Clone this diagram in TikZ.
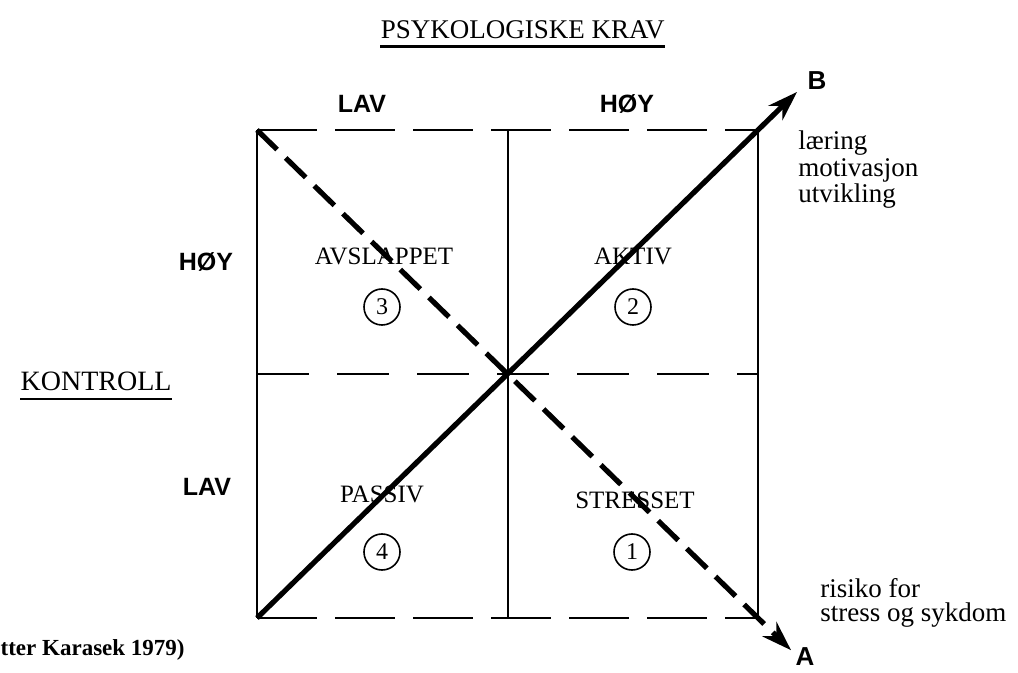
\documentclass[tikz,border=0pt]{standalone}
\usepackage{fontspec}
\setmainfont{Liberation Serif}
\newfontfamily\capsfont{Liberation Sans}
\usetikzlibrary{calc, arrows.meta}

\begin{document}
\begin{tikzpicture}[x=0.5pt, y=-0.5pt,
    axislabel/.style={font=\capsfont\bfseries\fontsize{12.5}{12.5}\selectfont, inner sep=0pt},
    fieldlabel/.style={font=\fontsize{12.5}{12.5}\selectfont, inner sep=0pt},
    sidetext/.style={font=\fontsize{13.5}{13.5}\selectfont, inner sep=0pt},
    numcircle/.style={circle, draw, line width=0.8pt, minimum size=18pt, inner sep=0pt, font=\fontsize{12}{12}\selectfont},
    thinline/.style={line width=1pt},
    gapline/.style={line width=1pt, dash pattern=on 30pt off 9pt},
    midgap/.style={line width=1pt, dash pattern=on 26pt off 14pt},
    diag/.style={line width=2.6pt, -{Stealth[length=15pt, width=10pt]}}]
                \useasboundingbox (0,0) rectangle (1018,673);
                \fill[white] (0,0) rectangle (1018,673);
                \coordinate (tl) at (257,130);
                \coordinate (tr) at (758,130);
                \coordinate (bl) at (257,618);
                \coordinate (br) at (758,618);
                \coordinate (tm) at ($(tl)!0.5!(tr)$);
                \coordinate (bm) at ($(bl)!0.5!(br)$);
                \coordinate (lm) at ($(tl)!0.5!(bl)$);
                \coordinate (rm) at ($(tr)!0.5!(br)$);
                \coordinate (btip) at ($(bl)!1.078!(tr)$);
                \coordinate (atip) at ($(tl)!1.066!(br)$);
                \draw[thinline] (tl) -- (bl) (tr) -- (br) (tm) -- (bm);
                \draw[gapline] (tl) -- (tr) (bl) -- (br);
                \draw[midgap] (lm) -- (rm);
                \draw[diag] (bl) -- (btip);
                \draw[diag, dash pattern=on 14pt off 6pt] (tl) -- (atip);
                \node[sidetext, anchor=east] (title) at (665,30) {PSYKOLOGISKE KRAV};
                \draw[line width=1.2pt] ($(title.south west)+(0,7)$) -- ($(title.south east)+(0,7)$);
                \node[sidetext, font=\fontsize{14}{14}\selectfont, anchor=east] (ctrl) at (172,381) {KONTROLL};
                \draw[line width=1.2pt] ($(ctrl.south west)+(0,8)$) -- ($(ctrl.south east)+(0,8)$);
                \node[axislabel] (toplow) at (362,104) {LAV};
                \node[axislabel] (tophigh) at (627,104) {HØY};
                \node[axislabel] (sidehigh) at (206,262) {HØY};
                \node[axislabel] (sidelow) at (207,487) {LAV};
                \node[fieldlabel] (relaxed) at (384,256) {AVSLAPPET};
                \node[fieldlabel] (active) at (633,256) {AKTIV};
                \node[fieldlabel] (passive) at (382,494) {PASSIV};
                \node[fieldlabel] (stressed) at (635,500) {STRESSET};
                \node[numcircle] (n3) at (382,307) {3};
                \node[numcircle] (n2) at (633,307) {2};
                \node[numcircle] (n4) at (382,552) {4};
                \node[numcircle] (n1) at (632,552) {1};
                \node[axislabel, font=\capsfont\bfseries\fontsize{13}{13}\selectfont] (lblb) at (817,81) {B};
                \node[axislabel, font=\capsfont\bfseries\fontsize{13}{13}\selectfont] (lbla) at (805,657) {A};
                \node[sidetext, anchor=base west] (gain1) at (798,150) {læring};
                \node[sidetext, anchor=base west] (gain2) at (798,177) {motivasjon};
                \node[sidetext, anchor=base west] (gain3) at (798,203) {utvikling};
                \node[sidetext, anchor=base west] (risk1) at (820,597) {risiko for};
                \node[sidetext, anchor=base west] (risk2) at (820,622) {stress og sykdom};
                \node[sidetext, font=\bfseries\fontsize{11.5}{11.5}\selectfont, anchor=base east] (source) at (185,655) {(etter Karasek 1979)};
            \end{tikzpicture}
\end{document}
